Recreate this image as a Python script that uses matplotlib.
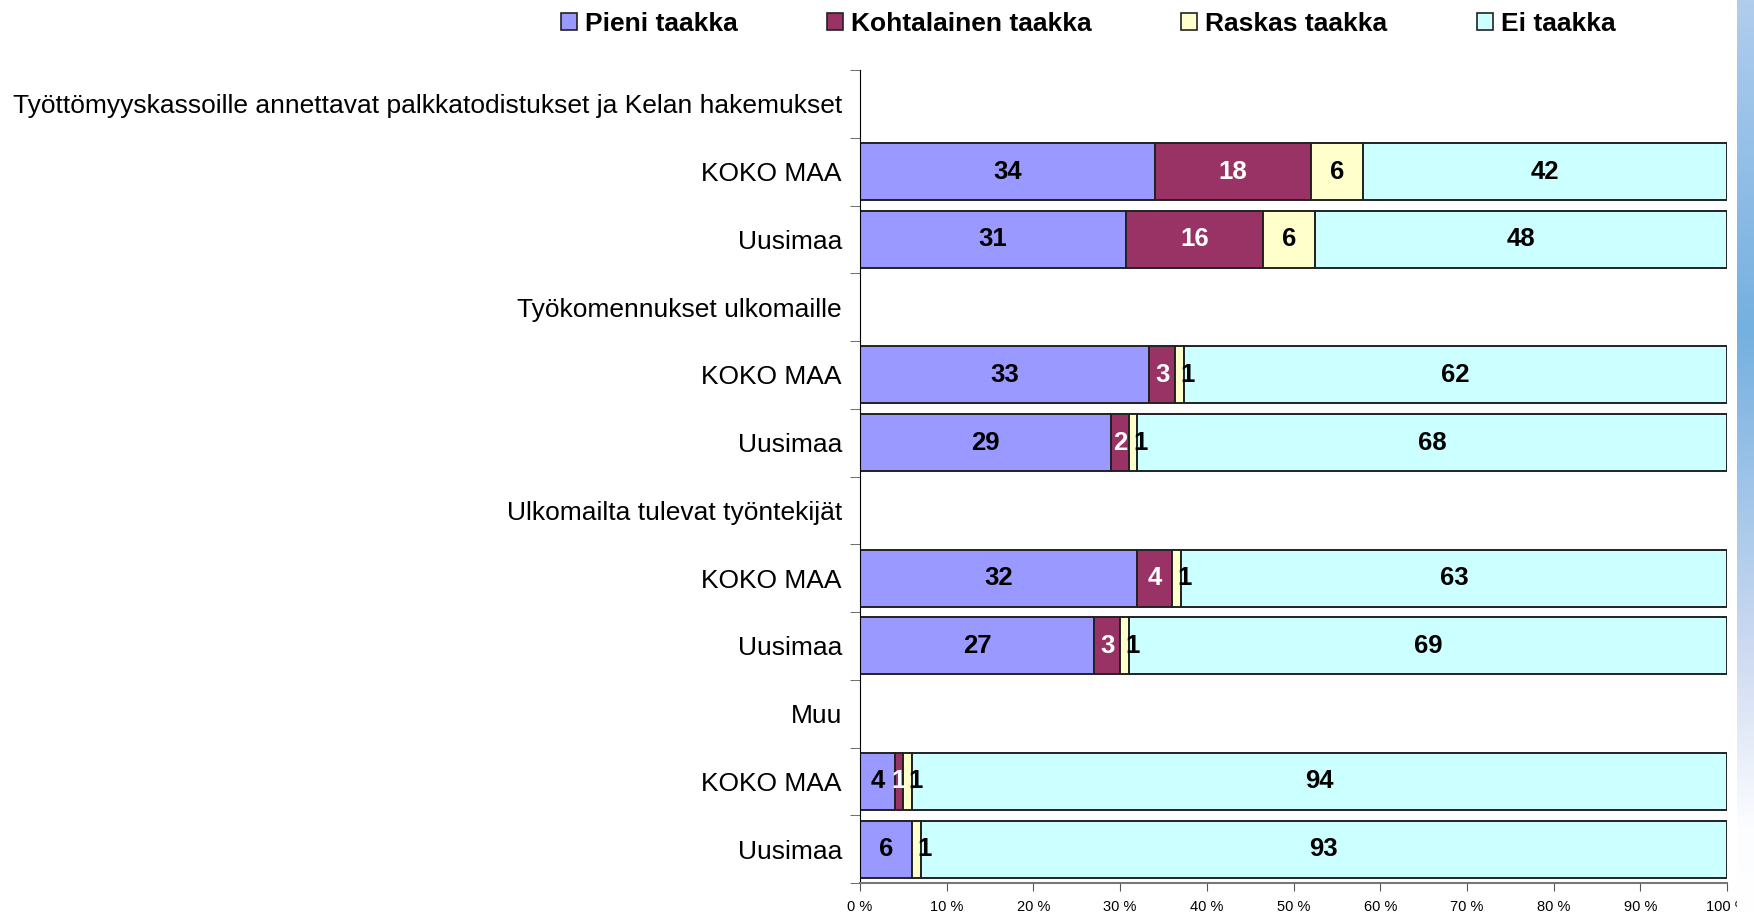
import numpy as np
import matplotlib
matplotlib.use('Agg')
import matplotlib.pyplot as plt
from matplotlib.patches import Patch
from matplotlib.colors import LinearSegmentedColormap

plt.rcParams['font.family'] = ['Liberation Sans', 'DejaVu Sans']

# rows from top to bottom; header rows have no bar
row_labels = ['Työttömyyskassoille annettavat palkkatodistukset ja Kelan hakemukset',
              'KOKO MAA', 'Uusimaa',
              'Työkomennukset ulkomaille',
              'KOKO MAA', 'Uusimaa',
              'Ulkomailta tulevat työntekijät',
              'KOKO MAA', 'Uusimaa',
              'Muu',
              'KOKO MAA', 'Uusimaa']
series_names = ['Pieni taakka', 'Kohtalainen taakka', 'Raskas taakka', 'Ei taakka']
colors = ['#9999FF', '#993366', '#FFFFCC', '#CCFFFF']
label_colors = ['black', 'white', 'black', 'black']

pieni       = [None, 34, 31, None, 33, 29, None, 32, 27, None, 4, 6]
kohtalainen = [None, 18, 16, None, 3, 2, None, 4, 3, None, 1, 0]
raskas      = [None, 6, 6, None, 1, 1, None, 1, 1, None, 1, 1]
ei          = [None, 42, 48, None, 62, 68, None, 63, 69, None, 94, 93]
series = [pieni, kohtalainen, raskas, ei]

W, H = 1754, 914
fig = plt.figure(figsize=(W / 100, H / 100), dpi=100)
ax = fig.add_axes([860 / W, 1 - 883 / H, (1727 - 860) / W, (883 - 70) / H])

# decorative gradient strip on the right edge
strip = fig.add_axes([1737 / W, 0, (W - 1737) / W, 1])
cmap = LinearSegmentedColormap.from_list('strip', [
    (0.0, (176/255, 205/255, 238/255)),
    (330/914, (116/255, 176/255, 224/255)),
    (650/914, (205/255, 218/255, 242/255)),
    (830/914, (252/255, 253/255, 255/255)),
    (1.0, (1, 1, 1))])
strip.imshow(np.linspace(0, 1, 400).reshape(-1, 1), aspect='auto', cmap=cmap,
             extent=[0, 1, 1, 0])
strip.set_axis_off()

ypos = np.arange(len(row_labels))
for i in ypos:
    if pieni[i] is None:
        continue
    vals = np.array([s[i] for s in series], dtype=float)
    pct = vals / vals.sum() * 100
    left = 0
    for j, p in enumerate(pct):
        if vals[j] > 0:
            ax.barh(i, p, left=left, height=0.84, color=colors[j],
                    edgecolor='#222222', linewidth=1.4)
            xt = left + p / 2
            if j == 2 and p < 3:
                xt += 0.9  # excel puts the tiny labels just right of the sliver
            ax.text(xt, i, '%d' % vals[j], ha='center', va='center',
                    fontsize=18.5, fontweight='bold', color=label_colors[j])
        left += p

ax.set_xlim(0, 100)
ax.set_ylim(len(row_labels) - 0.5, -0.5)
ax.set_xticks(np.arange(0, 101, 10))
ax.set_xticklabels(['%d %%' % v for v in range(0, 101, 10)], fontsize=10.5)
ax.set_yticks(ypos)
ax.set_yticklabels(row_labels, fontsize=19)
ax.tick_params(axis='y', length=0, pad=13)
ax.set_yticks(np.arange(-0.5, len(row_labels), 1), minor=True)
ax.tick_params(axis='y', which='minor', length=7, color='#555555', direction='out')
ax.tick_params(axis='x', length=6, color='#555555', direction='out', pad=6)
for s in ['top', 'right']:
    ax.spines[s].set_visible(False)
ax.spines['left'].set_color('black')
ax.spines['bottom'].set_color('#777777')
ax.spines['bottom'].set_linewidth(1.5)

handles = [Patch(facecolor=c, edgecolor='#222222', linewidth=1.2) for c in colors]
fig.legend(handles, series_names, loc='center', bbox_to_anchor=(1088 / W, 1 - 24 / H),
           ncol=4, frameon=False, prop={'size': 19, 'weight': 'bold'},
           handlelength=0.6, handleheight=0.6, handletextpad=0.3, columnspacing=3.4)

fig.savefig('out.png', dpi=100)
